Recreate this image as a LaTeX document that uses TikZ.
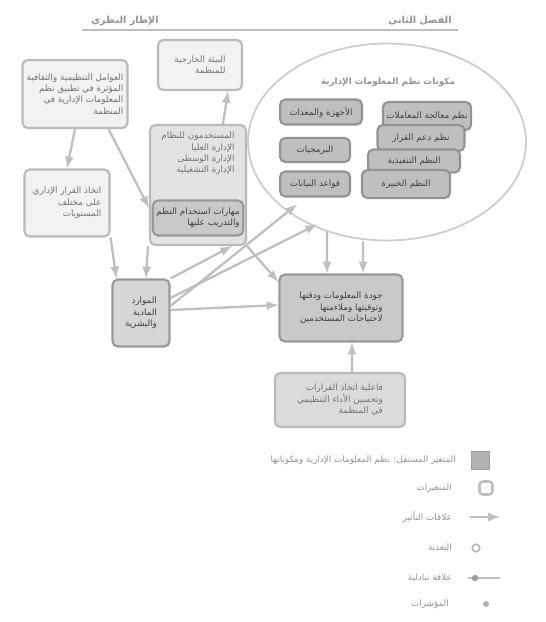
\documentclass[tikz,border=0pt]{standalone}
\usepackage{fontspec}
\usetikzlibrary{shapes,arrows,shapes.geometric}
\newfontfamily\arabicfont[Script=Arabic]{DejaVu Sans}
\TeXXeTstate=1
\newcommand{\artxt}[1]{{\arabicfont\beginR #1\endR}}
\tikzset{
	block/.style    = {draw=gray!55, fill=gray!16, rounded corners=3pt, line width=1.2pt,
		align=right, inner sep=2pt, text=gray!90!black, font=\fontsize{5}{6.5}\selectfont},
	dblock/.style   = {block, draw=gray!80, fill=gray!42, text=black!75},
	stack/.style    = {block, draw=gray!85, fill=gray!50, text=black!75},
	title/.style    = {font=\fontsize{5.5}{6}\selectfont\bfseries, text=gray!85},
	legtext/.style  = {anchor=east, font=\fontsize{5}{6}\selectfont, text=gray!85},
	link/.style     = {draw=gray!50, line width=1.3pt}
}

\begin{document}
\begin{tikzpicture}[x=0.02cm, y=-0.02cm, auto, >=latex]
	\useasboundingbox (0,0) rectangle (546,622);

	% header
	\coordinate (hl) at (82,30);
	\coordinate (hr) at (458,30);
	\draw[gray!50, line width=1pt] (hl) -- (hr);
	\draw
	node at (125,21)[title] (h1) {\artxt{الإطار النظري}}
	node at (420,21)[title] (h2) {\artxt{الفصل الثاني}};

	% left side
	\draw
	node at (200,65)[block, fill=gray!10, minimum width=1.68cm, minimum height=1cm] (top)
		{\artxt{البيئة الخارجية}\\\artxt{للمنظمة}}
	node at (75,94)[block, fill=gray!10, minimum width=2.1cm, minimum height=1.36cm] (tl)
		{\artxt{العوامل التنظيمية والثقافية}\\\artxt{المؤثرة في تطبيق نظم}\\\artxt{المعلومات الإدارية في}\\\artxt{المنظمة}}
	node at (67,203)[block, fill=gray!10, minimum width=1.7cm, minimum height=1.34cm] (lm)
		{\artxt{اتخاذ القرار الإداري}\\\artxt{على مختلف}\\\artxt{المستويات}}
	node at (198,185)[block, fill=gray!22, minimum width=1.92cm, minimum height=2.4cm, text depth=1.3cm] (ctr)
		{\artxt{المستخدمون للنظام}\\\artxt{الإدارة العليا}\\\artxt{الإدارة الوسطى}\\\artxt{الإدارة التشغيلية}}
	node at (198,218)[dblock, minimum width=1.8cm, minimum height=0.7cm] (cin)
		{\artxt{مهارات استخدام النظم}\\\artxt{والتدريب عليها}}
	node at (141,313)[dblock, fill=gray!32, minimum width=1.14cm, minimum height=1.34cm] (sm)
		{\artxt{الموارد}\\\artxt{المادية}\\\artxt{والبشرية}};

	% ellipse with components
	\draw
	node at (387,142)[ellipse, draw=gray!40, line width=1pt, minimum width=5.56cm, minimum height=3.94cm] (ell) {}
	node at (388,82)[title, font=\fontsize{5}{6}\selectfont\bfseries] (et) {\artxt{مكونات نظم المعلومات الإدارية}}
	node at (321,112)[stack, minimum width=1.64cm, minimum height=0.5cm] (l1) {\artxt{الأجهزة والمعدات}}
	node at (315,150)[stack, minimum width=1.4cm, minimum height=0.48cm] (l2) {\artxt{البرمجيات}}
	node at (315,184)[stack, minimum width=1.4cm, minimum height=0.5cm] (l3) {\artxt{قواعد البيانات}}
	node at (427,116)[stack, minimum width=1.7cm, minimum height=0.56cm] (r1) {\artxt{نظم معالجة المعاملات}}
	node at (421,138)[stack, minimum width=1.74cm, minimum height=0.52cm] (r2) {\artxt{نظم دعم القرار}}
	node at (414,161)[stack, minimum width=1.84cm, minimum height=0.46cm] (r3) {\artxt{النظم التنفيذية}}
	node at (406,184)[stack, minimum width=1.76cm, minimum height=0.56cm] (r4) {\artxt{النظم الخبيرة}};

	% right side
	\draw
	node at (341,308)[dblock, minimum width=2.46cm, minimum height=1.34cm] (rb)
		{\artxt{جودة المعلومات ودقتها}\\\artxt{وتوقيتها وملاءمتها}\\\artxt{لاحتياجات المستخدمين}}
	node at (340,400)[block, fill=gray!28, minimum width=2.6cm, minimum height=1.08cm] (bt)
		{\artxt{فاعلية اتخاذ القرارات}\\\artxt{وتحسين الأداء التنظيمي}\\\artxt{في المنظمة}};

	% connectors
	\draw[->, link](tl.south) -- node {} (lm.north);
	\draw[->, link]([xshift=-0.4cm]tl.south east) -- node {} ([yshift=-0.46cm]ctr.west);
	\draw[->, link]([xshift=0.5cm]ctr.north) -- node {} ([xshift=0.56cm]top.south);
	\draw[->, link](lm.south east) -- node {} ([xshift=0.1cm]sm.north west);
	\draw[->, link]([xshift=-1cm]ctr.south) -- node {} ([xshift=0.1cm]sm.north);
	\draw[->, link](sm.north east) -- node {} ([xshift=-0.3cm]ctr.south east);
	\draw[->, link]([yshift=0.3cm]sm.east) -- node {} ([xshift=-1.4cm,yshift=0.34cm]ell.south);
	\draw[->, link]([yshift=0.14cm]sm.east) -- node {} ([xshift=-1.8cm,yshift=0.74cm]ell.south);
	\draw[->, link]([yshift=0.06cm]sm.east) -- node {} ([yshift=0.06cm]rb.west);
	\draw[->, link](ctr.south east) -- node {} ([yshift=0.52cm]rb.west);
	\draw[->, link]([xshift=-1.2cm,yshift=0.2cm]ell.south) -- node {} ([xshift=-0.28cm]rb.north);
	\draw[->, link]([xshift=-0.48cm]ell.south) -- node {} ([xshift=0.44cm]rb.north);
	\draw[->, link]([xshift=0.24cm]bt.north) -- node {} ([xshift=0.22cm]rb.south);

	% legend
	\draw
	node at (480,460)[draw=gray!75, fill=gray!60, minimum size=0.36cm] (k1) {}
	node at (486,488)[draw=gray!50, line width=1.5pt, rounded corners=2pt, minimum size=0.26cm] (k2) {}
	node at (462,460)[legtext] (t1) {\artxt{المتغير المستقل: نظم المعلومات الإدارية ومكوناتها}}
	node at (458,488)[legtext] (t2) {\artxt{المتغيرات}}
	node at (458,517)[legtext] (t3) {\artxt{علاقات التأثير}}
	node at (458,548)[legtext] (t4) {\artxt{التغذية}}
	node at (458,578)[legtext] (t5) {\artxt{علاقة تبادلية}}
	node at (455,604)[legtext] (t6) {\artxt{المؤشرات}};
	\coordinate (k3a) at (470,517);
	\coordinate (k3b) at (500,517);
	\coordinate (k5a) at (468,578);
	\coordinate (k5b) at (500,578);
	\draw[->, link] (k3a) -- (k3b);
	\draw[link] (k5a) -- (k5b);
	\draw
	node at (475,578)[circle, fill=gray!75, inner sep=1.3pt] (k5) {}
	node at (476,548)[circle, draw=gray!55, line width=1pt, inner sep=1.5pt] (k4) {}
	node at (486,604)[circle, fill=gray!60, inner sep=1.2pt] (k6) {};
\end{tikzpicture}
\end{document}
